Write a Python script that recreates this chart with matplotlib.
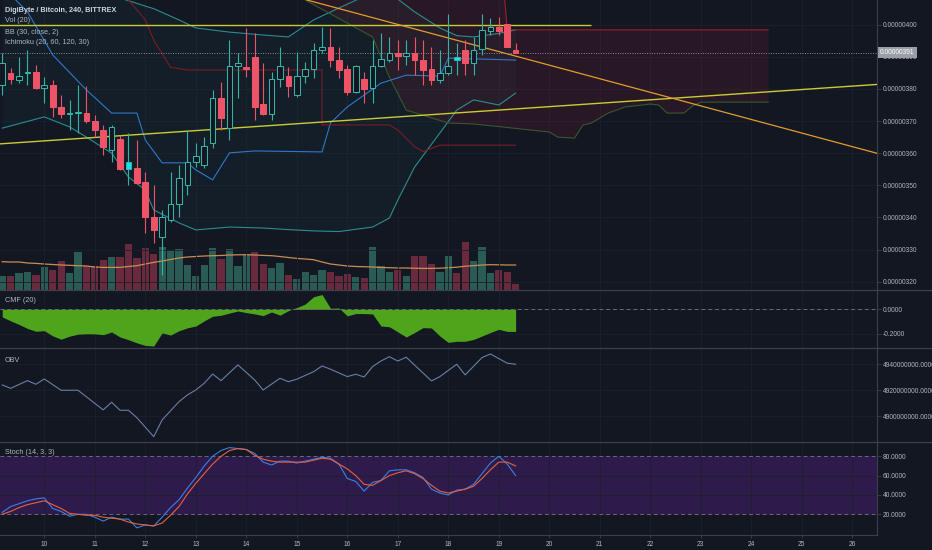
import numpy as np
import matplotlib.pyplot as plt
from matplotlib.lines import Line2D
from matplotlib.transforms import blended_transform_factory

plt.rcParams['font.family'] = ['Liberation Sans', 'DejaVu Sans']

# DGB/BTC 4h candles, prices in satoshi (1e-8 BTC)
t0 = 9 + 4 / 24          # first visible candle: 9th, 04:00
step = 4 / 24
opens = [381.2, 385.1, 382.8, 385.0, 385.4, 380.3, 381.2, 374.4, 372.2, 372.5,
         372.5, 370.0, 367.2, 361.0, 364.4, 355.1, 355.4, 351.0, 340.1, 333.9,
         339.2, 344.2, 350.1, 357.3, 356.3, 363.2, 377.2, 367.9, 387.2, 386.8,
         390.0, 375.3, 372.2, 383.1, 384.0, 378.1, 384.0, 386.2, 392.1, 393.1,
         389.0, 386.2, 379.1, 383.1, 380.3, 387.2, 389.0, 391.2, 390.3, 391.2,
         389.0, 386.2, 382.8, 385.0, 389.0, 392.1, 388.1, 392.4, 398.0, 399.3,
         400.2, 392.1]
highs = [391.2, 386.5, 390.0, 392.1, 387.5, 383.7, 382.8, 378.1, 376.6, 381.2,
         380.9, 371.9, 368.8, 368.8, 365.7, 366.3, 364.1, 354.1, 350.1, 342.3,
         354.1, 356.3, 367.2, 363.2, 365.0, 379.7, 382.2, 395.2, 391.2, 399.0,
         397.4, 388.1, 385.3, 393.1, 386.8, 391.5, 388.4, 394.3, 399.3, 399.0,
         393.1, 387.5, 387.5, 385.3, 395.2, 397.4, 396.2, 395.2, 395.2, 396.2,
         395.2, 393.1, 392.1, 403.3, 394.3, 395.2, 396.2, 403.3, 402.1, 402.4,
         400.2, 394.3]
lows = [378.1, 381.5, 381.9, 381.2, 380.0, 375.6, 371.3, 371.0, 367.2, 366.3,
        369.4, 365.0, 359.4, 357.3, 354.8, 350.1, 350.5, 335.2, 332.0, 322.1,
        338.6, 340.1, 347.0, 355.7, 355.4, 361.6, 367.2, 364.1, 377.2, 383.7,
        370.3, 371.9, 370.3, 380.6, 377.5, 377.5, 381.9, 383.4, 391.2, 386.8,
        383.4, 378.1, 378.7, 375.6, 375.6, 386.8, 388.4, 385.9, 387.5, 384.3,
        381.2, 381.2, 381.9, 384.3, 384.3, 384.3, 384.3, 390.6, 396.8, 396.8,
        393.1, 391.2]
closes = [388.1, 383.0, 384.0, 385.3, 380.2, 381.2, 374.4, 372.2, 372.5, 372.7,
          370.0, 367.2, 362.0, 368.2, 355.1, 357.3, 350.7, 340.1, 336.1, 340.1,
          344.2, 352.3, 357.3, 359.1, 362.3, 377.2, 371.0, 387.2, 388.1, 386.2,
          374.4, 372.2, 383.1, 387.2, 380.9, 384.0, 386.2, 392.1, 393.1, 389.0,
          385.9, 379.1, 387.2, 380.0, 387.2, 389.3, 391.2, 390.3, 391.2, 389.0,
          385.9, 382.8, 385.0, 387.2, 390.0, 388.1, 392.1, 398.4, 399.3, 398.0,
          393.1, 391.2]
highlight = [15, 54]

volume = [13.6, 13.6, 16.6, 17.6, 15.3, 22.6, 20, 29.3, 16.6, 38.3,
          24.3, 24.3, 30, 32.6, 32.6, 46, 32, 42, 36, 43,
          40, 41.3, 25, 14.3, 25, 42, 31, 41.3, 24.3, 36,
          38.3, 26, 22, 26.6, 15.3, 11, 17.6, 15, 20.3, 17.6,
          13.6, 16, 13.3, 11.6, 42.6, 24.3, 17.6, 20, 14.3, 34.3,
          34.3, 26, 17.6, 34.3, 16.6, 47.6, 28.6, 42.6, 16.6, 20,
          17.6, 6]
vol_dir = "grggrgrrgg" "rrrgrrrrrg" "ggggggrggg" "rrggrggggr" "rrgrgggrgr" "rrggrrgggr" "rr"
vol_ma = [28.3, 28, 28, 27, 26.6, 26, 25.5, 25, 24.7, 24.3,
          24, 23, 22.6, 22.6, 22.6, 23.5, 24.3, 26, 27.6, 29,
          30.5, 32, 33, 33.5, 34, 34.3, 34.5, 35, 35.2, 35.3,
          35, 34.6, 34.3, 33.5, 32.5, 31.6, 31, 30.3, 28, 26,
          25, 24, 23.5, 23.3, 23, 22.5, 22.3, 22, 22, 21.8,
          21.6, 21.6, 21.8, 22.3, 22.8, 23.8, 24.3, 25, 25.3, 25.2,
          25, 25]

# Bollinger bands (30, 2)
bb_idx = [0, 5, 8, 10, 13, 15, 17, 18, 21, 23, 27, 31, 34, 37, 40, 44, 46, 47, 49, 52, 54, 56, 59, 61]
bb_upper = [415.5, 413, 411, 410, 409, 407.5, 405.8, 405.0, 401.5, 399, 397.7, 396.8, 396.2,
            401.5, 405.2, 410, 409, 408, 404, 399, 396.6, 396.2, 397.3, 398.4]
bb_lower = [367.8, 371.3, 368.2, 365.0, 360.0, 352.6, 348.5, 342.3, 338.3, 336.1, 337.0, 336.7,
            336.2, 335.8, 335.6, 337, 339.8, 345.4, 355.7, 366.3, 373.4, 376.6, 375.0, 378.7]

# Ichimoku (20, 60, 120, 30)
tenkan_idx = [0, 3, 6, 10, 13, 16, 17, 19, 22, 23, 25, 27, 30, 38, 39, 41, 45, 48, 52, 53, 61]
tenkan = [412, 404.0, 390.6, 379.7, 372.5, 372.5, 364.1, 357.0, 357.0, 354.8, 351.7, 360.1,
          360.7, 360.4, 369.4, 374.4, 381.8, 384.3, 384.0, 389.6, 389.0]
kijun_idx = [14, 15, 17, 18, 20, 22, 38, 38, 46, 47, 49, 50, 52, 61]
kijun = [410.8, 407.7, 401.5, 395.2, 386.8, 385.9, 385.9, 368.8, 368.8, 367.2, 362.0, 360.5,
         362.5, 362.5]
cloud_idx = [30, 36, 44, 46, 48, 53, 56, 59, 60, 65, 66, 68, 69, 70, 72, 74, 77, 78, 79, 81, 82, 83, 91]
span_a = [420.0, 407.7, 396.2, 383.7, 373.4, 369.4, 369.1, 368.3, 368.0, 366.6, 365.0, 364.7,
          368.8, 369.4, 372.5, 374.4, 375.3, 375.0, 372.5, 372.5, 374.7, 375.9, 375.9]
span_b = [430.0, 430.0, 430.0, 430.0, 430.0, 430.0, 430.0, 430.0, 398.4, 398.4, 398.4, 398.4,
          398.4, 398.4, 398.4, 398.4, 398.4, 398.4, 398.4, 398.4, 398.4, 398.4, 398.4]

# drawings (day, price)
resistance = (400.0, 9.0, 20.83)
support_line = [(9.123, 362.9), (26.483, 381.4)]
down_line = [(15.202, 407.7), (26.483, 360.0)]

cmf = [-0.062, -0.095, -0.124, -0.157, -0.180, -0.175, -0.218, -0.245, -0.220, -0.204,
       -0.200, -0.201, -0.208, -0.186, -0.227, -0.249, -0.275, -0.296, -0.301, -0.193,
       -0.211, -0.176, -0.152, -0.137, -0.095, -0.057, -0.049, -0.031, -0.014, -0.027,
       -0.038, -0.052, -0.022, -0.048, -0.011, 0.014, 0.043, 0.103, 0.121, 0.008,
       0.011, -0.054, -0.035, -0.035, -0.038, -0.137, -0.143, -0.185, -0.227, -0.190,
       -0.150, -0.153, -0.219, -0.271, -0.262, -0.262, -0.247, -0.219, -0.190, -0.164,
       -0.181, -0.181]

obv_idx = [0, 1, 3, 4, 5, 7, 9, 12, 13, 14, 15, 16, 18, 19, 21, 22, 23, 24, 25, 26,
           28, 30, 31, 33, 34, 35, 37, 38, 39, 41, 42, 43, 44, 45, 46, 47, 48, 51, 52, 54,
           55, 57, 58, 60, 61]
obv_millions = [4924.1, 4921.5, 4927.4, 4924.6, 4928.7, 4920.0, 4920.0, 4904.9, 4910.8, 4904.6,
                4904.6, 4898.9, 4884.3, 4897.2, 4911.2, 4916.4, 4920.2, 4925.4, 4932.5, 4927.4,
                4939.5, 4927.9, 4920.2, 4929.2, 4926.6, 4928.5, 4934.3, 4938.7, 4936.2, 4930.5,
                4932.3, 4930.2, 4938.2, 4942.5, 4945.8, 4942.5, 4945.4, 4927.2, 4930.5, 4940.0,
                4931.8, 4945.1, 4947.9, 4940.8, 4940.0]

stoch_k = [22, 28, 31, 34, 36, 37, 26, 23, 18, 20, 20, 17, 13, 17, 15, 15, 6, 9, 8, 17,
           27, 35, 47, 58, 70, 80, 86, 89, 88, 87, 83, 74, 71, 75, 75, 73, 75, 77, 79, 78,
           72, 57, 54, 44, 53, 55, 65, 66, 66, 63, 58, 46, 42, 40, 45, 46, 51, 62, 73, 80,
           72, 60]
stoch_d = [20, 23, 27, 30, 32, 34, 30, 26, 21, 20, 19, 19, 17, 16, 15, 12, 10, 9, 8, 11,
           19, 28, 41, 52, 62, 72, 80, 86, 88, 87, 81, 77, 75, 74, 74, 74, 74, 76, 78, 77,
           72, 67, 60, 51, 50, 55, 60, 63, 65, 62, 57, 50, 44, 42, 44, 46, 49, 57, 66, 74,
           74, 70]

days = list(range(10, 27))

# colours
BG = '#131722'
GRID = '#1c202d'
SEP = '#3b3f4b'
TXT = '#b2b5be'
UP = '#36b2a6'
DN = '#ef5367'

W, H = 932, 550
fig = plt.figure(figsize=(W / 100, H / 100), dpi=100, facecolor=BG)
right = 876.7 / W


def pane(top, bottom, **kw):
    a = fig.add_axes([0, 1 - bottom / H, right, (bottom - top) / H], **kw)
    a.set_facecolor(BG)
    return a


ax = pane(0, 290)
axc = pane(290, 348, sharex=ax)
axo = pane(348, 442, sharex=ax)
axs = pane(442, 535, sharex=ax)

# volume lives on a twin axis drawn behind the price axis
axv = ax.twinx()
ax.set_zorder(2)
axv.set_zorder(1)
ax.patch.set_visible(False)
axv.axis('off')

for a in (ax, axc, axo, axs):
    a.set_xticks(days)
    a.grid(True, color=GRID, lw=0.6)
    a.set_axisbelow(True)
    for s in ('left', 'top', 'bottom'):
        a.spines[s].set_visible(False)
    a.spines['right'].set_color(SEP)
    a.yaxis.tick_right()
    a.tick_params(axis='y', left=False, labelleft=False, right=True, labelright=True,
                  length=3, width=0.6, color=SEP, labelcolor=TXT, labelsize=4.8, pad=1.5)
    a.tick_params(axis='x', bottom=False, labelbottom=False)
axs.spines['bottom'].set_visible(True)
axs.spines['bottom'].set_color(SEP)
axs.tick_params(axis='x', bottom=True, labelbottom=True, length=2, width=0.6,
                color=SEP, labelcolor=TXT, labelsize=4.8, pad=2)
axs.set_xticklabels([str(d) for d in days])
ax.set_xlim(9.1228, 26.483)

n = len(closes)
t = t0 + np.arange(n) * step
o, hi, lo, c = (np.array(v) for v in (opens, highs, lows, closes))

# ---- volume ----
axv.bar(t, volume, width=step * 0.86,
        color=['#2a5c53' if d == 'g' else '#6a2a3d' for d in vol_dir], lw=0)
axv.plot(t, vol_ma, color='#c98c55', lw=0.9)
axv.set_ylim(0, 290)

# ---- Bollinger bands ----
xb = t0 + np.array(bb_idx) * step
ax.fill_between(xb, bb_lower, bb_upper, color='#1e9090', alpha=0.06, lw=0, zorder=1)
ax.plot(xb, bb_upper, color='#2b8c90', lw=0.8, zorder=2)
ax.plot(xb, bb_lower, color='#2b8c90', lw=0.8, zorder=2)

# ---- Ichimoku ----
xc = t0 + np.array(cloud_idx) * step
sa, sb = np.array(span_a), np.array(span_b)
ax.fill_between(xc, sa, sb, where=sb >= sa, interpolate=True,
                color='#a3213a', alpha=0.15, lw=0, zorder=1)
ax.plot(xc, sa, color='#34572e', lw=0.8, zorder=2)
ax.plot(xc, sb, color='#a51d28', lw=0.8, zorder=2)
ax.plot(t0 + np.array(tenkan_idx) * step, tenkan, color='#2f78c8', lw=0.8, zorder=2)
ax.plot(t0 + np.array(kijun_idx) * step, kijun, color='#7a1c24', lw=0.8, zorder=2)

# ---- drawings ----
ax.hlines(resistance[0], resistance[1], resistance[2], color='#c9cc35', lw=1.0, zorder=3)
ax.axline(*support_line, color='#c9cc35', lw=1.0, zorder=3)
ax.axline(*down_line, color='#e59a2f', lw=0.9, zorder=3)

# ---- candles ----
up = c >= o
edge = np.where(up, UP, DN)
face = np.where(up, BG, DN).astype(object)
for k in highlight:
    face[k] = '#19e0f0'
ax.vlines(t, lo, hi, colors=edge, lw=0.8, zorder=4)
ax.bar(t, np.maximum(np.abs(c - o), 0.4), bottom=np.minimum(o, c), width=step * 0.68,
       color=list(face), edgecolor=list(edge), linewidth=0.75, zorder=5)

# last price line and label
last = closes[-1]
ax.axhline(last, color='#8a8e99', lw=0.7, ls=(0, (1, 1.5)), zorder=3)
trans = blended_transform_factory(ax.transAxes, ax.transData)
ax.text(1.004, last, f'{last * 1e-8:.8f}', transform=trans, ha='left', va='center',
        fontsize=4.8, color='white', clip_on=False, zorder=10,
        bbox=dict(boxstyle='square,pad=0.3', fc='#9a9ea8', ec='none'))

price_ticks = np.arange(320, 401, 10)
ax.set_yticks(price_ticks)
ax.set_yticklabels([f'{v * 1e-8:.8f}' for v in price_ticks])
ax.set_ylim(317.4, 407.7)

# ---- CMF ----
axc.fill_between(t, 0, cmf, color='#4ea41b', lw=0)
axc.axhline(0, color='#686b76', lw=0.7, ls=(0, (4, 3)))
axc.set_ylim(-0.317, 0.158)
axc.set_yticks([0, -0.2])
axc.set_yticklabels(['0.0000', '-0.2000'])

# ---- OBV ----
axo.plot(t0 + np.array(obv_idx) * step, np.array(obv_millions) * 1e6, color='#687fa4', lw=0.8)
axo.set_ylim(4880.2e6, 4952.5e6)
obv_ticks = [4900e6, 4920e6, 4940e6]
axo.set_yticks(obv_ticks)
axo.set_yticklabels([f'{v:.4f}' for v in obv_ticks])

# ---- Stochastic ----
axs.axhspan(20, 80, color='#2e1b4c', lw=0, zorder=0)
for lvl in (20, 80):
    axs.axhline(lvl, color='#6e6585', lw=0.7, ls=(0, (4, 3)))
axs.plot(t, stoch_k, color='#3a7fe8', lw=0.8)
axs.plot(t, stoch_d, color='#e8603c', lw=0.8)
axs.set_ylim(-1.4, 94.8)
axs.set_yticks([20, 40, 60, 80])
axs.set_yticklabels(['20.0000', '40.0000', '60.0000', '80.0000'])

# pane separators
for py in (290, 348, 442):
    fig.add_artist(Line2D([0, 1], [1 - py / H] * 2, color=SEP, lw=0.9,
                          transform=fig.transFigure))

# legends
labels = [("DigiByte / Bitcoin, 240, BITTREX", 10, '#d1d4dc', 'bold'),
          ("Vol (20)", 21, TXT, 'normal'), ("BB (30, close, 2)", 32, TXT, 'normal'),
          ("Ichimoku (20, 60, 120, 30)", 43, TXT, 'normal'), ("CMF (20)", 301, TXT, 'normal'),
          ("OBV", 360, TXT, 'normal'), ("Stoch (14, 3, 3)", 452, TXT, 'normal')]
for s, py, col, wt in labels:
    fig.text(5 / W, 1 - py / H, s, fontsize=5.2, color=col, va='center', ha='left',
             fontweight=wt)

fig.savefig('out.png', dpi=100, facecolor=BG)
